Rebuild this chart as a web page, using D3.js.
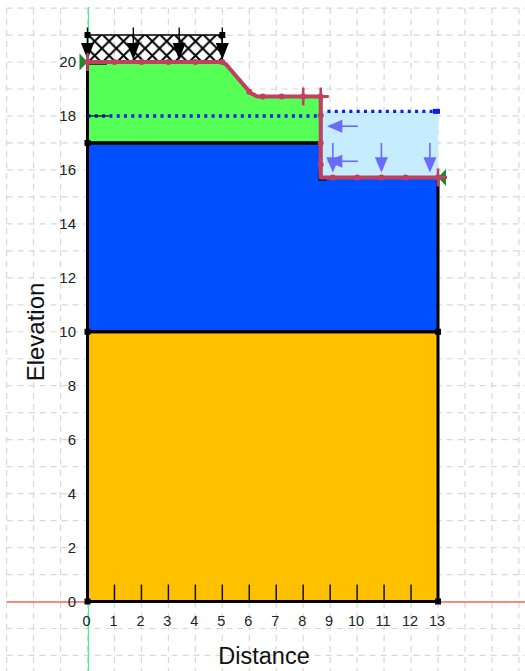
<!DOCTYPE html>
<html><head><meta charset="utf-8">
<script src="https://cdn.jsdelivr.net/npm/d3@7/dist/d3.min.js"></script>
<style>html,body{margin:0;padding:0;background:#fff}svg{display:block}text{font-family:"Liberation Sans",Arial,sans-serif}</style>
</head><body><svg id="c" width="525" height="671"></svg>
<script>
const xTicks=[0,1,2,3,4,5,6,7,8,9,10,11,12,13];
const yTicks=[0,2,4,6,8,10,12,14,16,18,20];
const gridX=[-3,-2,-1,0,1,2,3,4,5,6,7,8,9,10,11,12,13,14,15,16];
const gridY=[-2,-1,0,1,2,3,4,5,6,7,8,9,10,11,12,13,14,15,16,17,18,19,20,21,22];
const surface=[[0,20],[5,20],[5.15,19.9],[6.05,18.85],[6.3,18.72],[8.65,18.72],[8.65,15.72],[13,15.72]];
const surfaceNodes=[[0,20],[1,20],[2,20],[3,20],[4,20],[5,20],[6,18.9],[6.5,18.72],[7.2,18.72],[8,18.72],[8.65,18.72],[8.65,18.02],[8.65,17],[8.65,16.2],[9.1,15.72],[10,15.72],[10.9,15.72],[11.8,15.72],[13,15.72]];
const soilGreen=[[0,20],[5,20],[5.15,19.9],[6.05,18.85],[6.3,18.72],[8.65,18.72],[8.65,17],[0,17]];
const soilBlue=[[0,17],[8.65,17],[8.65,15.72],[13,15.72],[13,10],[0,10]];
const soilOrange=[[0,10],[13,10],[13,0],[0,0]];
const pond=[[8.65,18.17],[13,18.17],[13,15.72],[8.65,15.72]];
const hatchArea=[[0,21],[5,21],[5,20],[0,20]];
const waterLeft=[[0,18],[8.65,18]];
const waterRight=[[8.9,18.17],[13,18.17]];
const loadX=[0,1.7,3.4,5];
const pondDownX=[9.1,10.9,12.7];
const pondSideY=[17.62,16.32];
const cornerPts=[[0,21],[5,21],[0,17],[0,10],[13,10],[0,0],[13,0]];
const xLabel="Distance", yLabel="Elevation";

const x=d3.scaleLinear().domain([0,13]).range([87.5,438]);
const y=d3.scaleLinear().domain([0,20]).range([601.5,62]);
const svg=d3.select("#c");
const line=d3.line().x(d=>x(d[0])).y(d=>y(d[1]));
const closed=d=>line(d)+"Z";
const defs=svg.append("defs");
const pat=defs.append("pattern").attr("id","hatch").attr("patternUnits","userSpaceOnUse").attr("width",14.4).attr("height",14.4).attr("x",x(0)).attr("y",y(21)-1);
pat.append("path").attr("d","M0,0L14.4,14.4M14.4,0L0,14.4").attr("stroke","#000").attr("stroke-width",2);

// grid
const g=svg.append("g").attr("stroke","#d8d8d8").attr("stroke-dasharray","6 5").attr("stroke-width",1.2);
g.selectAll(".v").data(gridX).join("line").attr("x1",d=>x(d)).attr("x2",d=>x(d)).attr("y1",y(22)).attr("y2",671);
g.selectAll(".h").data(gridY).join("line").attr("x1",x(-3)).attr("x2",525).attr("y1",d=>y(d)).attr("y2",d=>y(d));

// axes lines
svg.append("line").attr("x1",7).attr("x2",525).attr("y1",y(0)+0.5).attr("y2",y(0)+0.5).attr("stroke","#f4685c").attr("stroke-width",1.3);
svg.append("line").attr("x1",x(0)+1).attr("x2",x(0)+1).attr("y1",7).attr("y2",671).attr("stroke","#4cf0a0").attr("stroke-width",1.3);

// regions
const fills=[[pond,"#c5ecff"],[soilOrange,"#ffc000"],[soilBlue,"#0050ff"],[soilGreen,"#55ff55"]];
svg.selectAll(".r").data(fills).join("path").attr("d",d=>closed(d[0])).attr("fill",d=>d[1]);
svg.append("path").attr("d",closed(hatchArea)).attr("fill","url(#hatch)").attr("stroke","#000").attr("stroke-width",1.4);
svg.selectAll(".o").data([soilOrange,soilBlue,soilGreen]).join("path").attr("d",closed).attr("fill","none").attr("stroke","#000").attr("stroke-width",3);

// x ticks inside
svg.selectAll(".xt").data(xTicks.slice(1,-1)).join("line").attr("x1",d=>x(d)).attr("x2",d=>x(d)).attr("y1",y(0)).attr("y2",y(0)-17).attr("stroke","#111").attr("stroke-width",1.5);
svg.selectAll(".xl").data(xTicks).join("text").attr("x",d=>x(d)-1).attr("y",626).attr("text-anchor","middle").attr("font-size",14.5).attr("fill","#222").text(d=>d);
svg.selectAll(".yl").data(yTicks).join("text").attr("x",76).attr("y",d=>y(d)+5).attr("text-anchor","end").attr("font-size",15).attr("fill","#222").text(d=>d);
svg.append("text").attr("x",264).attr("y",664).attr("text-anchor","middle").attr("font-size",23.5).attr("fill","#111").text(xLabel);
svg.append("text").attr("transform","translate(44,332) rotate(-90)").attr("text-anchor","middle").attr("font-size",24).attr("fill","#111").text(yLabel);

// water tables
const dot=(pts,w)=>svg.append("path").attr("d",line(pts)).attr("fill","none").attr("stroke","#0a1ee8").attr("stroke-width",w).attr("stroke-dasharray","3 4.3");
dot(waterLeft,3.4);dot(waterRight,3.4);
svg.append("rect").attr("x",x(13)-5).attr("y",y(18.17)-2.5).attr("width",7).attr("height",5).attr("fill","#0a1ee8");
svg.append("line").attr("x1",x(0)).attr("x2",x(0.8)).attr("y1",y(18)).attr("y2",y(18)).attr("stroke","#000").attr("stroke-width",1.2);

// pond pressure arrows
const blue="#6a6aff";
pondDownX.forEach(v=>{
 svg.append("line").attr("x1",x(v)).attr("x2",x(v)).attr("y1",y(17)).attr("y2",y(16.3)).attr("stroke",blue).attr("stroke-width",1.6);
 svg.append("path").attr("d",d3.line()([[x(v)-6.5,y(16.47)],[x(v)+6.5,y(16.47)],[x(v),y(15.9)]])+"Z").attr("fill",blue);
});
pondSideY.forEach(v=>{
 svg.append("line").attr("x1",x(9.3)).attr("x2",x(10.03)).attr("y1",y(v)).attr("y2",y(v)).attr("stroke",blue).attr("stroke-width",1.6);
 svg.append("path").attr("d",d3.line()([[x(9.45),y(v)-6.5],[x(9.45),y(v)+6.5],[x(8.88),y(v)]])+"Z").attr("fill",blue);
});

// surcharge load
loadX.forEach(v=>{
 svg.append("line").attr("x1",x(v)).attr("x2",x(v)).attr("y1",y(21.28)).attr("y2",y(20.2)).attr("stroke","#000").attr("stroke-width",1.4);
 svg.append("path").attr("d",d3.line()([[x(v)-6.5,y(20.7)],[x(v)+6.5,y(20.7)],[x(v),y(20.08)]])+"Z").attr("fill","#000");
});

// corner points
svg.selectAll(".p").data(cornerPts).join("rect").attr("x",d=>x(d[0])-3).attr("y",d=>y(d[1])-3).attr("width",6).attr("height",6).attr("fill","#000");
svg.append("path").attr("d",d3.line()([[x(8.65)-1,y(15.72)-5],[x(8.65)-1,y(15.72)+2],[x(8.65)+6,y(15.72)+2]])).attr("fill","none").attr("stroke","#111").attr("stroke-width",2.6);
// black edge under crest start
svg.append("path").attr("d",line([[0,20],[0.72,20]])).attr("transform","translate(0,2)").attr("stroke","#000").attr("stroke-width",1.4);

// surface line
const crimson="#c04060";
svg.append("path").attr("d",line(surface)).attr("fill","none").attr("stroke",crimson).attr("stroke-width",4).attr("stroke-linejoin","round");
svg.selectAll(".n").data(surfaceNodes).join("circle").attr("cx",d=>x(d[0])).attr("cy",d=>y(d[1])).attr("r",3).attr("fill",crimson);
// vertical ticks on surface
[[8,18.72],[8.65,18.72]].forEach(d=>{
 svg.append("line").attr("x1",x(d[0])).attr("x2",x(d[0])).attr("y1",y(d[1])-9).attr("y2",y(d[1])+9).attr("stroke",crimson).attr("stroke-width",2.6);
});
svg.append("line").attr("x1",x(8.65)).attr("x2",x(8.95)).attr("y1",y(18.72)).attr("y2",y(18.72)).attr("stroke",crimson).attr("stroke-width",3);
// end markers
[[0,20,1],[13,15.72,-1]].forEach(([a,b,s])=>{
 svg.append("path").attr("d",d3.line()([[x(a)+s*-8,y(b)-8.5],[x(a)+s*-8,y(b)+8.5],[x(a)+s*0,y(b)]])+"Z").attr("fill","#1c8a2a");
 svg.append("line").attr("x1",x(a)).attr("x2",x(a)).attr("y1",y(b)-9).attr("y2",y(b)+9).attr("stroke",crimson).attr("stroke-width",2.6);
 svg.append("line").attr("x1",x(a)-(s>0?3:0)).attr("x2",x(a)+(s>0?0:9)).attr("y1",y(b)).attr("y2",y(b)).attr("stroke",crimson).attr("stroke-width",3);
});
</script></body></html>
